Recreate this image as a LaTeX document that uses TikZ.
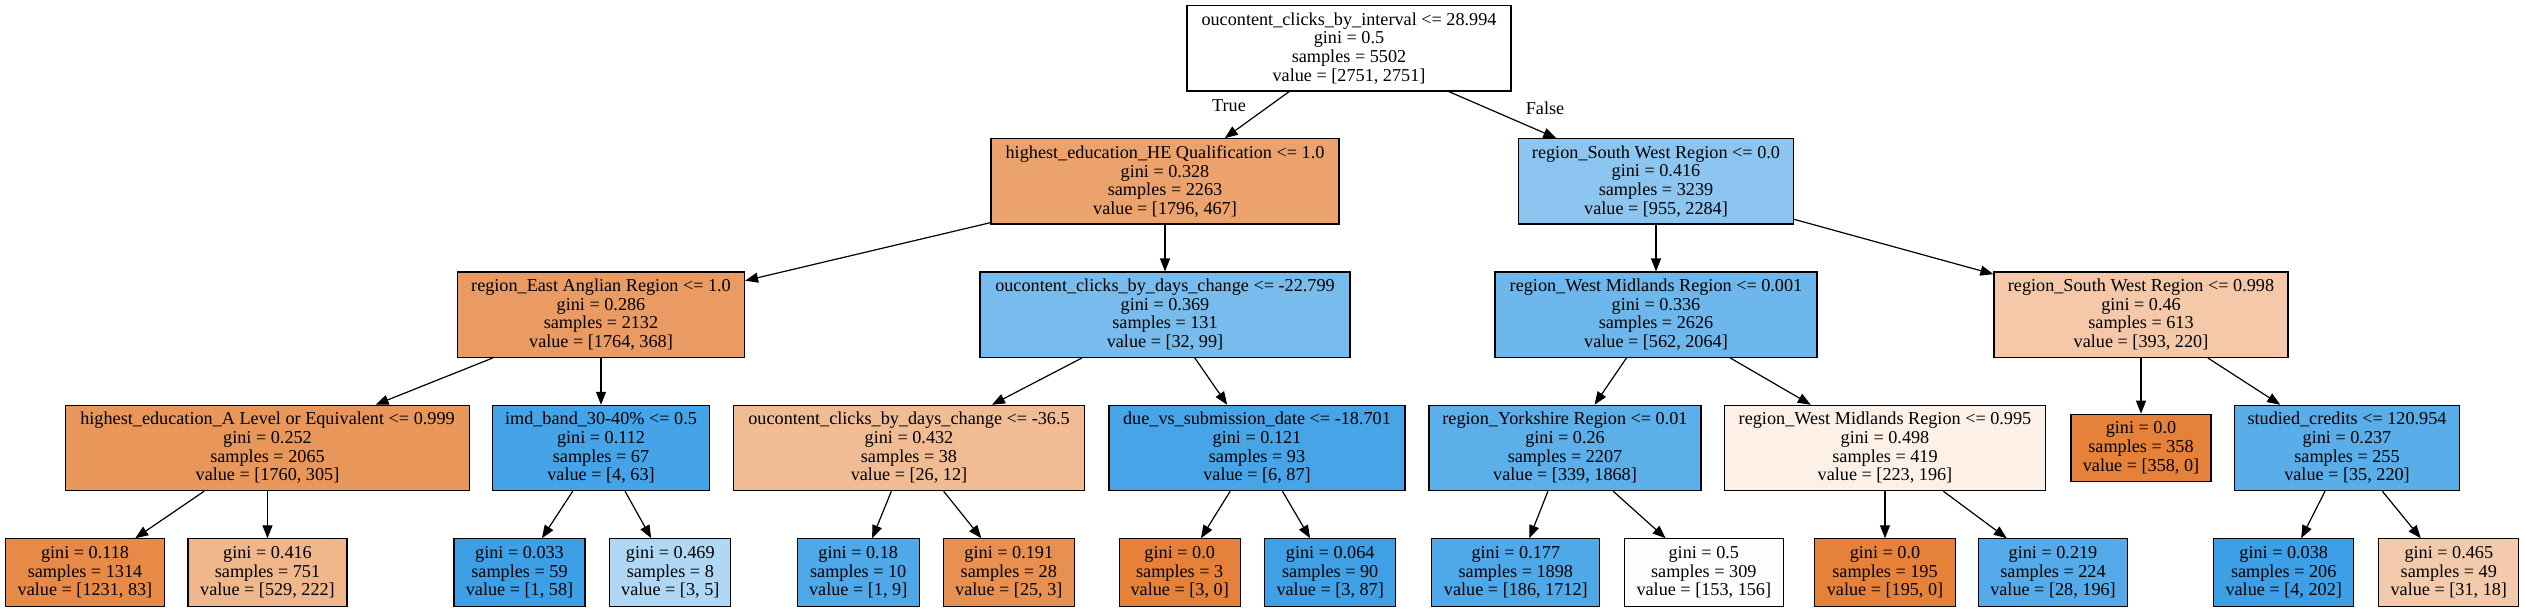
\documentclass[tikz,border=0pt]{standalone}
\usepackage{fontspec}
\setmainfont{Liberation Serif}
\usetikzlibrary{arrows.meta}

\definecolor{leftorange}{RGB}{229,129,57}
\definecolor{rightblue}{RGB}{57,157,229}

\begin{document}
\begin{tikzpicture}[x=1pt,y=-1pt,
		splitbox/.style={draw=black, line width=1.2pt, minimum width=#1pt, minimum height=85.3pt, inner sep=0pt, align=center, font=\fontsize{18.2}{18.7}\selectfont},
		leafbox/.style={splitbox=#1, minimum height=67.5pt},
		branch/.style={line width=1.2pt, -{Triangle[length=13pt,width=10pt]}},
		branchlabel/.style={inner sep=0pt, font=\fontsize{18.2}{18.7}\selectfont}]
			\useasboundingbox (0,0) rectangle (2525,611);
			%Root
			\node[splitbox=324, fill=white] (N0) at (1349,48.3) {oucontent\_clicks\_by\_interval <= 28.994\\gini = 0.5\\samples = 5502\\value = [2751, 2751]};
			%Depth 1
			\node[splitbox=348, fill=leftorange!74] (N1) at (1165,181.4) {highest\_education\_HE Qualification <= 1.0\\gini = 0.328\\samples = 2263\\value = [1796, 467]};
			\node[splitbox=275, fill=rightblue!58] (N2) at (1656,181.4) {region\_South West Region <= 0.0\\gini = 0.416\\samples = 3239\\value = [955, 2284]};
			%Depth 2
			\node[splitbox=287, fill=leftorange!79] (N3) at (601,314.7) {region\_East Anglian Region <= 1.0\\gini = 0.286\\samples = 2132\\value = [1764, 368]};
			\node[splitbox=370, fill=rightblue!68] (N4) at (1165,314.7) {oucontent\_clicks\_by\_days\_change <= -22.799\\gini = 0.369\\samples = 131\\value = [32, 99]};
			\node[splitbox=322, fill=rightblue!73] (N5) at (1656,314.7) {region\_West Midlands Region <= 0.001\\gini = 0.336\\samples = 2626\\value = [562, 2064]};
			\node[splitbox=294, fill=leftorange!44] (N6) at (2141,314.7) {region\_South West Region <= 0.998\\gini = 0.46\\samples = 613\\value = [393, 220]};
			%Depth 3
			\node[splitbox=404, fill=leftorange!83] (N7) at (267.5,448) {highest\_education\_A Level or Equivalent <= 0.999\\gini = 0.252\\samples = 2065\\value = [1760, 305]};
			\node[splitbox=217, fill=rightblue!94] (N8) at (601,448) {imd\_band\_30-40\% <= 0.5\\gini = 0.112\\samples = 67\\value = [4, 63]};
			\node[splitbox=351, fill=leftorange!54] (N9) at (909,448) {oucontent\_clicks\_by\_days\_change <= -36.5\\gini = 0.432\\samples = 38\\value = [26, 12]};
			\node[splitbox=296, fill=rightblue!93] (N10) at (1257,448) {due\_vs\_submission\_date <= -18.701\\gini = 0.121\\samples = 93\\value = [6, 87]};
			\node[splitbox=272, fill=rightblue!82] (N11) at (1565,448) {region\_Yorkshire Region <= 0.01\\gini = 0.26\\samples = 2207\\value = [339, 1868]};
			\node[splitbox=321, fill=leftorange!12] (N12) at (1885,448) {region\_West Midlands Region <= 0.995\\gini = 0.498\\samples = 419\\value = [223, 196]};
			\node[leafbox=140, fill=leftorange] (N13) at (2141,448) {gini = 0.0\\samples = 358\\value = [358, 0]};
			\node[splitbox=225, fill=rightblue!84] (N14) at (2347,448) {studied\_credits <= 120.954\\gini = 0.237\\samples = 255\\value = [35, 220]};
			%Leaves
			\node[leafbox=159, fill=leftorange!93] (L1) at (85,572.6) {gini = 0.118\\samples = 1314\\value = [1231, 83]};
			\node[leafbox=159, fill=leftorange!58] (L2) at (267.5,572.6) {gini = 0.416\\samples = 751\\value = [529, 222]};
			\node[leafbox=131, fill=rightblue!98] (L3) at (519.5,572.6) {gini = 0.033\\samples = 59\\value = [1, 58]};
			\node[leafbox=121, fill=rightblue!40] (L4) at (670.3,572.6) {gini = 0.469\\samples = 8\\value = [3, 5]};
			\node[leafbox=122, fill=rightblue!89] (L5) at (858.2,572.6) {gini = 0.18\\samples = 10\\value = [1, 9]};
			\node[leafbox=131, fill=leftorange!88] (L6) at (1008.8,572.6) {gini = 0.191\\samples = 28\\value = [25, 3]};
			\node[leafbox=121, fill=leftorange] (L7) at (1179.7,572.6) {gini = 0.0\\samples = 3\\value = [3, 0]};
			\node[leafbox=131, fill=rightblue!97] (L8) at (1330.2,572.6) {gini = 0.064\\samples = 90\\value = [3, 87]};
			\node[leafbox=168, fill=rightblue!89] (L9) at (1515.8,572.6) {gini = 0.177\\samples = 1898\\value = [186, 1712]};
			\node[leafbox=159, fill=rightblue!2] (L10) at (1703.8,572.6) {gini = 0.5\\samples = 309\\value = [153, 156]};
			\node[leafbox=141, fill=leftorange] (L11) at (1885,572.6) {gini = 0.0\\samples = 195\\value = [195, 0]};
			\node[leafbox=149, fill=rightblue!86] (L12) at (2053,572.6) {gini = 0.219\\samples = 224\\value = [28, 196]};
			\node[leafbox=140, fill=rightblue!98] (L13) at (2283.7,572.6) {gini = 0.038\\samples = 206\\value = [4, 202]};
			\node[leafbox=140, fill=leftorange!42] (L14) at (2448.8,572.6) {gini = 0.465\\samples = 49\\value = [31, 18]};
			%Branches
			\draw[branch] (N0) -- (N1);
			\draw[branch] (N0) -- (N2);
			\node[branchlabel] (T) at (1229,106) {True};
			\node[branchlabel] (F) at (1545,108) {False};
			\draw[branch] (N1) -- (N3);
			\draw[branch] (N1) -- (N4);
			\draw[branch] (N2) -- (N5);
			\draw[branch] (N2) -- (N6);
			\draw[branch] (N3) -- (N7);
			\draw[branch] (N3) -- (N8);
			\draw[branch] (N4) -- (N9);
			\draw[branch] (N4) -- (N10);
			\draw[branch] (N5) -- (N11);
			\draw[branch] (N5) -- (N12);
			\draw[branch] (N6) -- (N13);
			\draw[branch] (N6) -- (N14);
			\draw[branch] (N7) -- (L1);
			\draw[branch] (N7) -- (L2);
			\draw[branch] (N8) -- (L3);
			\draw[branch] (N8) -- (L4);
			\draw[branch] (N9) -- (L5);
			\draw[branch] (N9) -- (L6);
			\draw[branch] (N10) -- (L7);
			\draw[branch] (N10) -- (L8);
			\draw[branch] (N11) -- (L9);
			\draw[branch] (N11) -- (L10);
			\draw[branch] (N12) -- (L11);
			\draw[branch] (N12) -- (L12);
			\draw[branch] (N14) -- (L13);
			\draw[branch] (N14) -- (L14);
		\end{tikzpicture}
\end{document}
